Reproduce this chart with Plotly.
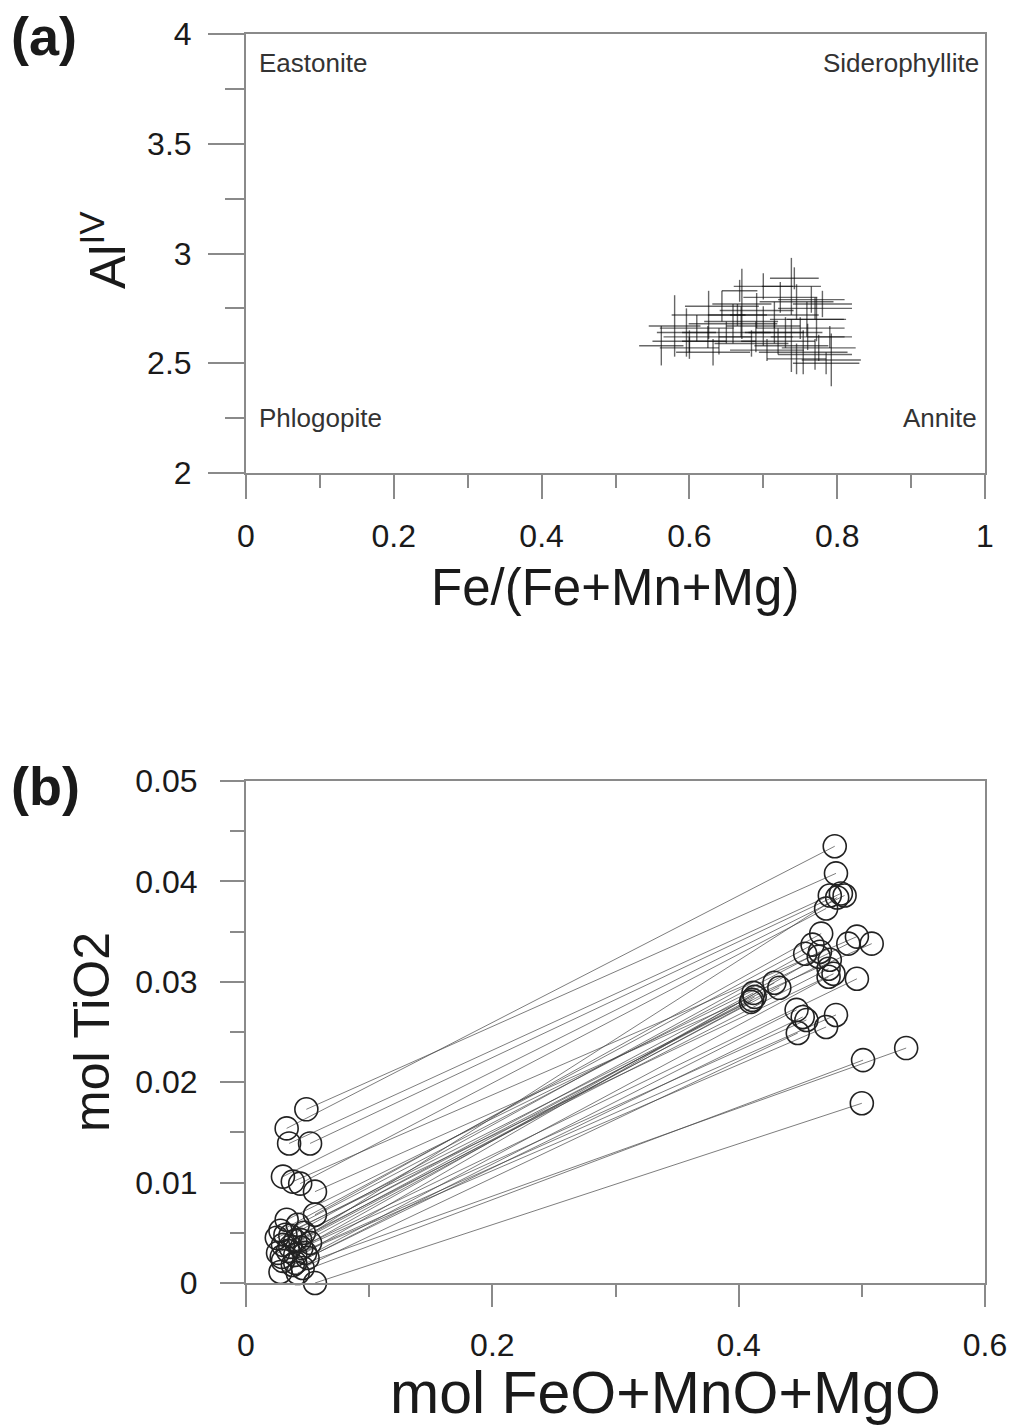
import plotly.graph_objects as go

# ---------------- Panel (a) data: Fe/(Fe+Mn+Mg) vs Al(IV) with error crosses
fe_ratio = [0.562, 0.580, 0.596, 0.626, 0.632, 0.644, 0.659, 0.671, 0.684, 0.691,
            0.705, 0.723, 0.738, 0.738, 0.754, 0.759, 0.772, 0.792, 0.610, 0.650,
            0.670, 0.700, 0.715, 0.730, 0.745, 0.760, 0.775, 0.690, 0.640, 0.600,
            0.715, 0.780, 0.665, 0.700, 0.745, 0.600, 0.625, 0.750, 0.790, 0.720,
            0.765, 0.770, 0.770, 0.785, 0.742, 0.668]
al_iv = [2.58, 2.67, 2.64, 2.72, 2.55, 2.76, 2.68, 2.77, 2.59, 2.74,
         2.56, 2.80, 2.85, 2.58, 2.55, 2.70, 2.70, 2.515, 2.66, 2.64,
         2.69, 2.67, 2.72, 2.64, 2.78, 2.62, 2.57, 2.62, 2.60, 2.60,
         2.64, 2.77, 2.72, 2.85, 2.52, 2.57, 2.62, 2.66, 2.62, 2.60,
         2.79, 2.75, 2.54, 2.50, 2.887, 2.83]
fe_ratio_err = [0.030, 0.035, 0.040, 0.050, 0.050, 0.050, 0.060, 0.040, 0.050, 0.050,
                0.050, 0.050, 0.040, 0.050, 0.060, 0.050, 0.040, 0.040, 0.050, 0.060,
                0.050, 0.050, 0.060, 0.050, 0.050, 0.050, 0.050, 0.050, 0.050, 0.050,
                0.040, 0.040, 0.040, 0.040, 0.040, 0.040, 0.060, 0.060, 0.030, 0.050,
                0.045, 0.050, 0.050, 0.045, 0.033, 0.024]
al_iv_err = [0.09, 0.14, 0.11, 0.11, 0.06, 0.07, 0.09, 0.16, 0.06, 0.08,
             0.05, 0.07, 0.13, 0.12, 0.10, 0.08, 0.10, 0.12, 0.06, 0.05,
             0.07, 0.09, 0.06, 0.07, 0.08, 0.06, 0.06, 0.07, 0.06, 0.05,
             0.05, 0.06, 0.05, 0.06, 0.07, 0.05, 0.05, 0.05, 0.05, 0.06,
             0.06, 0.05, 0.07, 0.05, 0.05, 0.05]

corner_labels = ["Eastonite", "Siderophyllite", "Phlogopite", "Annite"]

# ---------------- Panel (b) data: paired points (left end -> right end)
feo_left = [0.049, 0.033, 0.035, 0.052, 0.030, 0.038, 0.044, 0.056, 0.056, 0.033,
            0.042, 0.028, 0.047, 0.036, 0.025, 0.040, 0.052, 0.030, 0.045, 0.034,
            0.026, 0.040, 0.050, 0.030, 0.038, 0.046, 0.028, 0.042, 0.056,
            0.032, 0.044, 0.036, 0.048, 0.029, 0.040]
tio2_left = [0.0173, 0.0154, 0.0139, 0.0139, 0.0106, 0.0101, 0.0099, 0.0091, 0.0068, 0.0063,
             0.0058, 0.0052, 0.0050, 0.0047, 0.0045, 0.0042, 0.0040, 0.0038, 0.0035, 0.0032,
             0.0030, 0.0028, 0.0025, 0.0022, 0.0018, 0.0015, 0.0011, 0.0010, 0.0000,
             0.0048, 0.0043, 0.0036, 0.0030, 0.0026, 0.0020]
feo_right = [0.479, 0.478, 0.474, 0.483, 0.486, 0.496, 0.471, 0.508, 0.467, 0.489,
             0.466, 0.460, 0.474, 0.454, 0.477, 0.473, 0.496, 0.412, 0.429, 0.410,
             0.433, 0.479, 0.447, 0.471, 0.452, 0.448, 0.536, 0.501, 0.500,
             0.411, 0.413, 0.480, 0.465, 0.455, 0.473]
tio2_right = [0.0408, 0.0435, 0.0386, 0.0388, 0.0386, 0.0345, 0.0373, 0.0338, 0.0348, 0.0338,
              0.0330, 0.0337, 0.0322, 0.0328, 0.0308, 0.0313, 0.0303, 0.0289, 0.0299, 0.0280,
              0.0294, 0.0267, 0.0272, 0.0255, 0.0265, 0.0249, 0.0234, 0.0222, 0.0179,
              0.0282, 0.0285, 0.0384, 0.0325, 0.0262, 0.0305]

W, H = 1012, 1428
FONT = "Liberation Sans, Arial, sans-serif"
AXC = "#8a8a8a"
TXT = "#1a1a1a"


def px(x):
    return x / W


def py(y):
    return 1 - y / H


fig = go.Figure()

# Panel (a) crosses
fig.add_trace(go.Scatter(
    x=fe_ratio, y=al_iv, mode="markers",
    marker=dict(size=1, color="rgba(0,0,0,0)"),
    error_x=dict(type="data", array=fe_ratio_err, width=0, thickness=1.4,
                 color="rgba(10,10,10,0.62)"),
    error_y=dict(type="data", array=al_iv_err, width=0, thickness=1.4,
                 color="rgba(10,10,10,0.62)"),
    xaxis="x", yaxis="y", showlegend=False, hoverinfo="skip"))

# Panel (b) connecting lines
lx, ly = [], []
for a, b, c, d in zip(feo_left, tio2_left, feo_right, tio2_right):
    lx += [a, c, None]
    ly += [b, d, None]
fig.add_trace(go.Scatter(
    x=lx, y=ly, mode="lines",
    line=dict(color="rgba(70,70,70,0.7)", width=1),
    xaxis="x2", yaxis="y2", showlegend=False, hoverinfo="skip",
    cliponaxis=False))

# Panel (b) circles
fig.add_trace(go.Scatter(
    x=feo_left + feo_right, y=tio2_left + tio2_right, mode="markers",
    marker=dict(symbol="circle-open", size=23, color="#222222",
                line=dict(width=1.6, color="#222222")),
    xaxis="x2", yaxis="y2", showlegend=False, cliponaxis=False))

common = dict(showgrid=False, zeroline=False, showline=True, mirror=True,
              automargin=False,
              linecolor=AXC, linewidth=2, ticks="outside", tickcolor=AXC,
              tickwidth=2, tickfont=dict(family=FONT, size=32, color=TXT))

fig.update_layout(
    width=W, height=H,
    margin=dict(l=0, r=0, t=0, b=0, autoexpand=False),
    paper_bgcolor="white", plot_bgcolor="white",
    xaxis=dict(domain=[px(246), px(985)], range=[0, 1], anchor="y",
               tickvals=[0, 0.2, 0.4, 0.6, 0.8, 1], ticklen=24,
               ticklabelstandoff=10,
               minor=dict(ticks="outside", dtick=0.1, ticklen=13,
                          tickcolor=AXC, tickwidth=1.5),
               **common),
    yaxis=dict(domain=[py(473), py(34)], range=[2, 4], anchor="x",
               tickvals=[2, 2.5, 3, 3.5, 4], ticklen=36,
               ticklabelstandoff=10,
               minor=dict(ticks="outside", dtick=0.25, ticklen=19,
                          tickcolor=AXC, tickwidth=1.5),
               **common),
    xaxis2=dict(domain=[px(246), px(985)], range=[0, 0.6], anchor="y2",
                tickvals=[0, 0.2, 0.4, 0.6], ticklen=22,
                ticklabelstandoff=11,
                minor=dict(ticks="outside", dtick=0.1, ticklen=12,
                           tickcolor=AXC, tickwidth=1.5),
                **common),
    yaxis2=dict(domain=[py(1283), py(781)], range=[0, 0.05], anchor="x2",
                tickvals=[0, 0.01, 0.02, 0.03, 0.04, 0.05], ticklen=24,
                ticklabelstandoff=16,
                minor=dict(ticks="outside", dtick=0.005, ticklen=14,
                           tickcolor=AXC, tickwidth=1.5),
                **common),
)

ann = []


def add_text(text, x, y, size, xanchor="center", yanchor="middle", angle=0,
             bold=False, color=TXT):
    if bold:
        text = "<b>" + text + "</b>"
    ann.append(dict(text=text, x=px(x), y=py(y), xref="paper", yref="paper",
                    xanchor=xanchor, yanchor=yanchor, showarrow=False,
                    textangle=angle, borderpad=0,
                    font=dict(family=FONT, size=size, color=color)))


# panel labels
add_text("(a)", 10, 36, 54, xanchor="left", bold=True)
add_text("(b)", 10, 786, 54, xanchor="left", bold=True)
# axis titles
add_text("Fe/(Fe+Mn+Mg)", 615, 587, 51)
add_text("Al<sup>IV</sup>", 104, 250, 50, angle=-90)
add_text("mol FeO+MnO+MgO", 665, 1427, 59, yanchor="bottom")
add_text("mol TiO2", 92, 1032, 50, angle=-90)
# corner labels
add_text(corner_labels[0], 258, 63, 26, xanchor="left", color="#333333")
add_text(corner_labels[1], 980, 63, 26, xanchor="right", color="#333333")
add_text(corner_labels[2], 258, 418, 26, xanchor="left", color="#333333")
add_text(corner_labels[3], 978, 418, 26, xanchor="right", color="#333333")

fig.update_layout(annotations=ann)

fig.write_html("out.html", config={"displayModeBar": False})

# remove the default page margin so the figure sits at the window origin
with open("out.html", "r", encoding="utf-8") as f:
    html = f.read()
html = html.replace("<body>", '<body style="margin:0;padding:0;overflow:hidden">', 1)
with open("out.html", "w", encoding="utf-8") as f:
    f.write(html)
